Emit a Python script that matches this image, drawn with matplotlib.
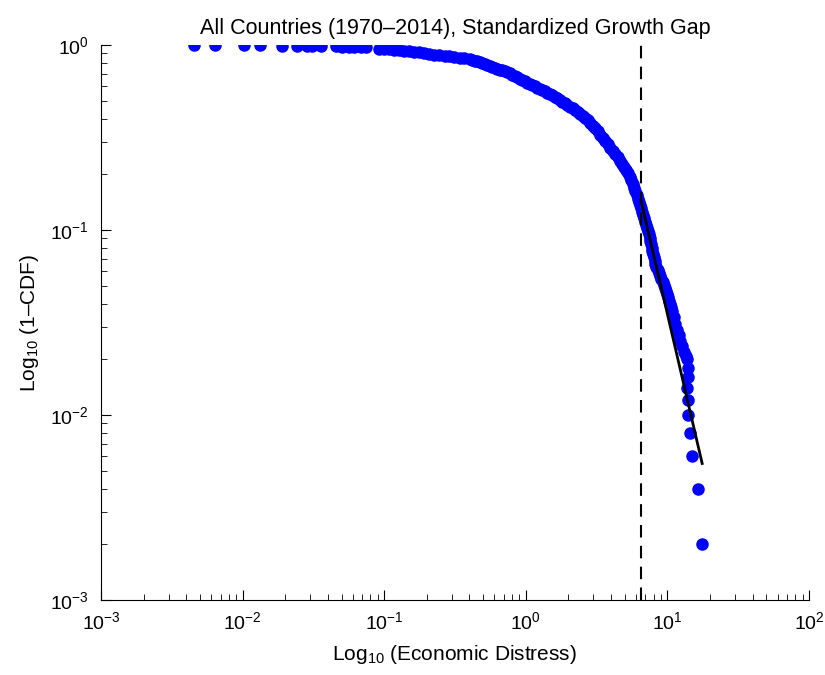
import matplotlib
matplotlib.use("Agg")
from matplotlib import pyplot as plt

plt.rcParams['font.family'] = ['Liberation Sans', 'DejaVu Sans']
plt.rcParams['mathtext.fontset'] = 'custom'
plt.rcParams['mathtext.rm'] = 'Liberation Sans'
plt.rcParams['mathtext.it'] = 'Liberation Sans:italic'

# isolated points at the low end (1 - CDF close to 1)
left_x = [0.00457, 0.0064, 0.0102, 0.0133, 0.019, 0.0243, 0.0286, 0.0310,
          0.0356, 0.0454, 0.0501, 0.0565, 0.0612, 0.0684, 0.0741]
left_y = [1.000, 0.998, 0.996, 0.994, 0.992, 0.990, 0.988, 0.986,
          0.984, 0.982, 0.980, 0.978, 0.976, 0.974, 0.972]

# dense part of the curve
band_x = [0.0922, 0.100, 0.1084, 0.1177, 0.1276, 0.1387, 0.1504, 0.1633, 0.1771, 0.1923,
          0.2085, 0.2265, 0.2455, 0.2667, 0.2891, 0.3133, 0.3404, 0.3690, 0.4009, 0.4345,
          0.4721, 0.5117, 0.5559, 0.6026, 0.6546, 0.7096, 0.7704, 0.8356, 0.9060, 0.9838,
          1.067, 1.158, 1.256, 1.363, 1.480, 1.605, 1.742, 1.890, 2.051, 2.226,
          2.415, 2.621, 2.843, 3.085, 3.347, 3.632, 3.941, 4.276, 4.640, 4.955,
          5.290, 5.553, 5.828, 6.077, 6.279, 6.488, 6.703, 6.926, 7.155, 7.394,
          7.572, 7.753, 7.94, 8.13, 8.35, 8.70, 9.06, 9.44, 9.84, 10.17,
          10.50, 10.85, 11.12, 11.40, 11.78, 12.07, 12.37, 12.77, 13.20, 13.52]
band_y = [0.957, 0.951, 0.947, 0.942, 0.937, 0.932, 0.925, 0.918, 0.911, 0.903,
          0.896, 0.888, 0.882, 0.874, 0.868, 0.861, 0.854, 0.847, 0.840, 0.824,
          0.806, 0.788, 0.770, 0.753, 0.737, 0.721, 0.703, 0.682, 0.659, 0.635,
          0.615, 0.597, 0.578, 0.562, 0.543, 0.524, 0.504, 0.485, 0.465, 0.445,
          0.426, 0.403, 0.379, 0.354, 0.328, 0.303, 0.279, 0.257, 0.2375, 0.2204,
          0.2033, 0.1863, 0.1687, 0.1546, 0.1417, 0.1307, 0.1205, 0.1111, 0.1025, 0.0946,
          0.0872, 0.0804, 0.0742, 0.0684, 0.0631, 0.0586, 0.0543, 0.0504, 0.0468, 0.0432,
          0.0398, 0.0367, 0.0339, 0.0312, 0.0288, 0.0269, 0.0251, 0.0235, 0.0219, 0.0208]

# more readings where the curve is steep
band2_x = [0.4174, 0.4529, 0.4915, 0.5333, 0.5788, 0.6281, 0.6815, 0.7394, 0.8023, 0.8701,
           0.9441, 1.0245, 1.1116, 1.206, 1.308, 1.420, 1.541, 1.672, 1.814, 1.969,
           2.137, 2.319, 2.516, 2.730, 2.962, 3.213, 3.487, 3.783, 4.105, 4.454,
           4.795, 5.120, 5.420, 5.689, 5.951, 6.177, 6.383, 6.595, 6.814, 7.040,
           7.273, 7.482, 7.662, 7.846, 8.035, 8.239, 8.523, 8.878, 9.248, 9.638,
           10.00, 10.33, 10.67]
band2_y = [0.832, 0.815, 0.797, 0.779, 0.761, 0.745, 0.729, 0.712, 0.692, 0.670,
           0.647, 0.625, 0.606, 0.5875, 0.570, 0.5524, 0.5334, 0.5139, 0.4944, 0.4749,
           0.4549, 0.4354, 0.4143, 0.3908, 0.3663, 0.3408, 0.3153, 0.2908, 0.2678, 0.2471,
           0.2288, 0.2117, 0.1946, 0.1773, 0.1615, 0.1480, 0.1361, 0.1255, 0.1157, 0.1067,
           0.0985, 0.0908, 0.0837, 0.0772, 0.0712, 0.0657, 0.0608, 0.0564, 0.0523, 0.0486,
           0.0450, 0.0415, 0.0382]

# isolated points in the tail
tail_x = [13.80, 13.93, 13.93, 13.80, 13.93, 13.93, 14.39, 14.96, 16.51, 17.62]
tail_y = [0.020, 0.018, 0.016, 0.014, 0.012, 0.010, 0.008, 0.006, 0.004, 0.002]

xmin = 6.5            # threshold (dashed line)
fit_x = [6.5, 17.6]   # power-law fit end points
fit_y = [0.145, 0.00547]

fig = plt.figure(figsize=(8.25, 6.75), dpi=100)
ax = fig.add_axes([101 / 825, 75 / 675, 708 / 825, 555 / 675])
ax.set_xscale('log')
ax.set_yscale('log')

ms = 8
for xs, ys in [(left_x, left_y), (band_x, band_y), (band2_x, band2_y), (tail_x, tail_y)]:
    ax.plot(xs, ys, 'o', color='#0000ff', ms=ms, mec='#0000ff', ls='none')

ax.plot(fit_x, fit_y, '-', color='k', lw=2)
ax.axvline(xmin, color='k', ls=(0, (6, 4)), lw=1.5)

ax.set_xlim(1e-3, 1e2)
ax.set_ylim(1e-3, 1e0)
ax.spines['top'].set_visible(False)
ax.spines['right'].set_visible(False)
ax.tick_params(which='both', direction='in', labelsize=14)
ax.tick_params(which='major', length=7)
ax.tick_params(which='minor', length=4)
ax.tick_params(axis='x', which='major', pad=8)
ax.tick_params(axis='y', which='major', pad=9)

ax.set_title('All Countries (1970\u20132014), Standardized Growth Gap', fontsize=15.5, pad=8)
ax.set_xlabel('Log$_{10}$ (Economic Distress)', fontsize=15, labelpad=7)
ax.set_ylabel('Log$_{10}$ (1\u2013CDF)', fontsize=15, labelpad=6)

fig.savefig('out.png', dpi=100)
